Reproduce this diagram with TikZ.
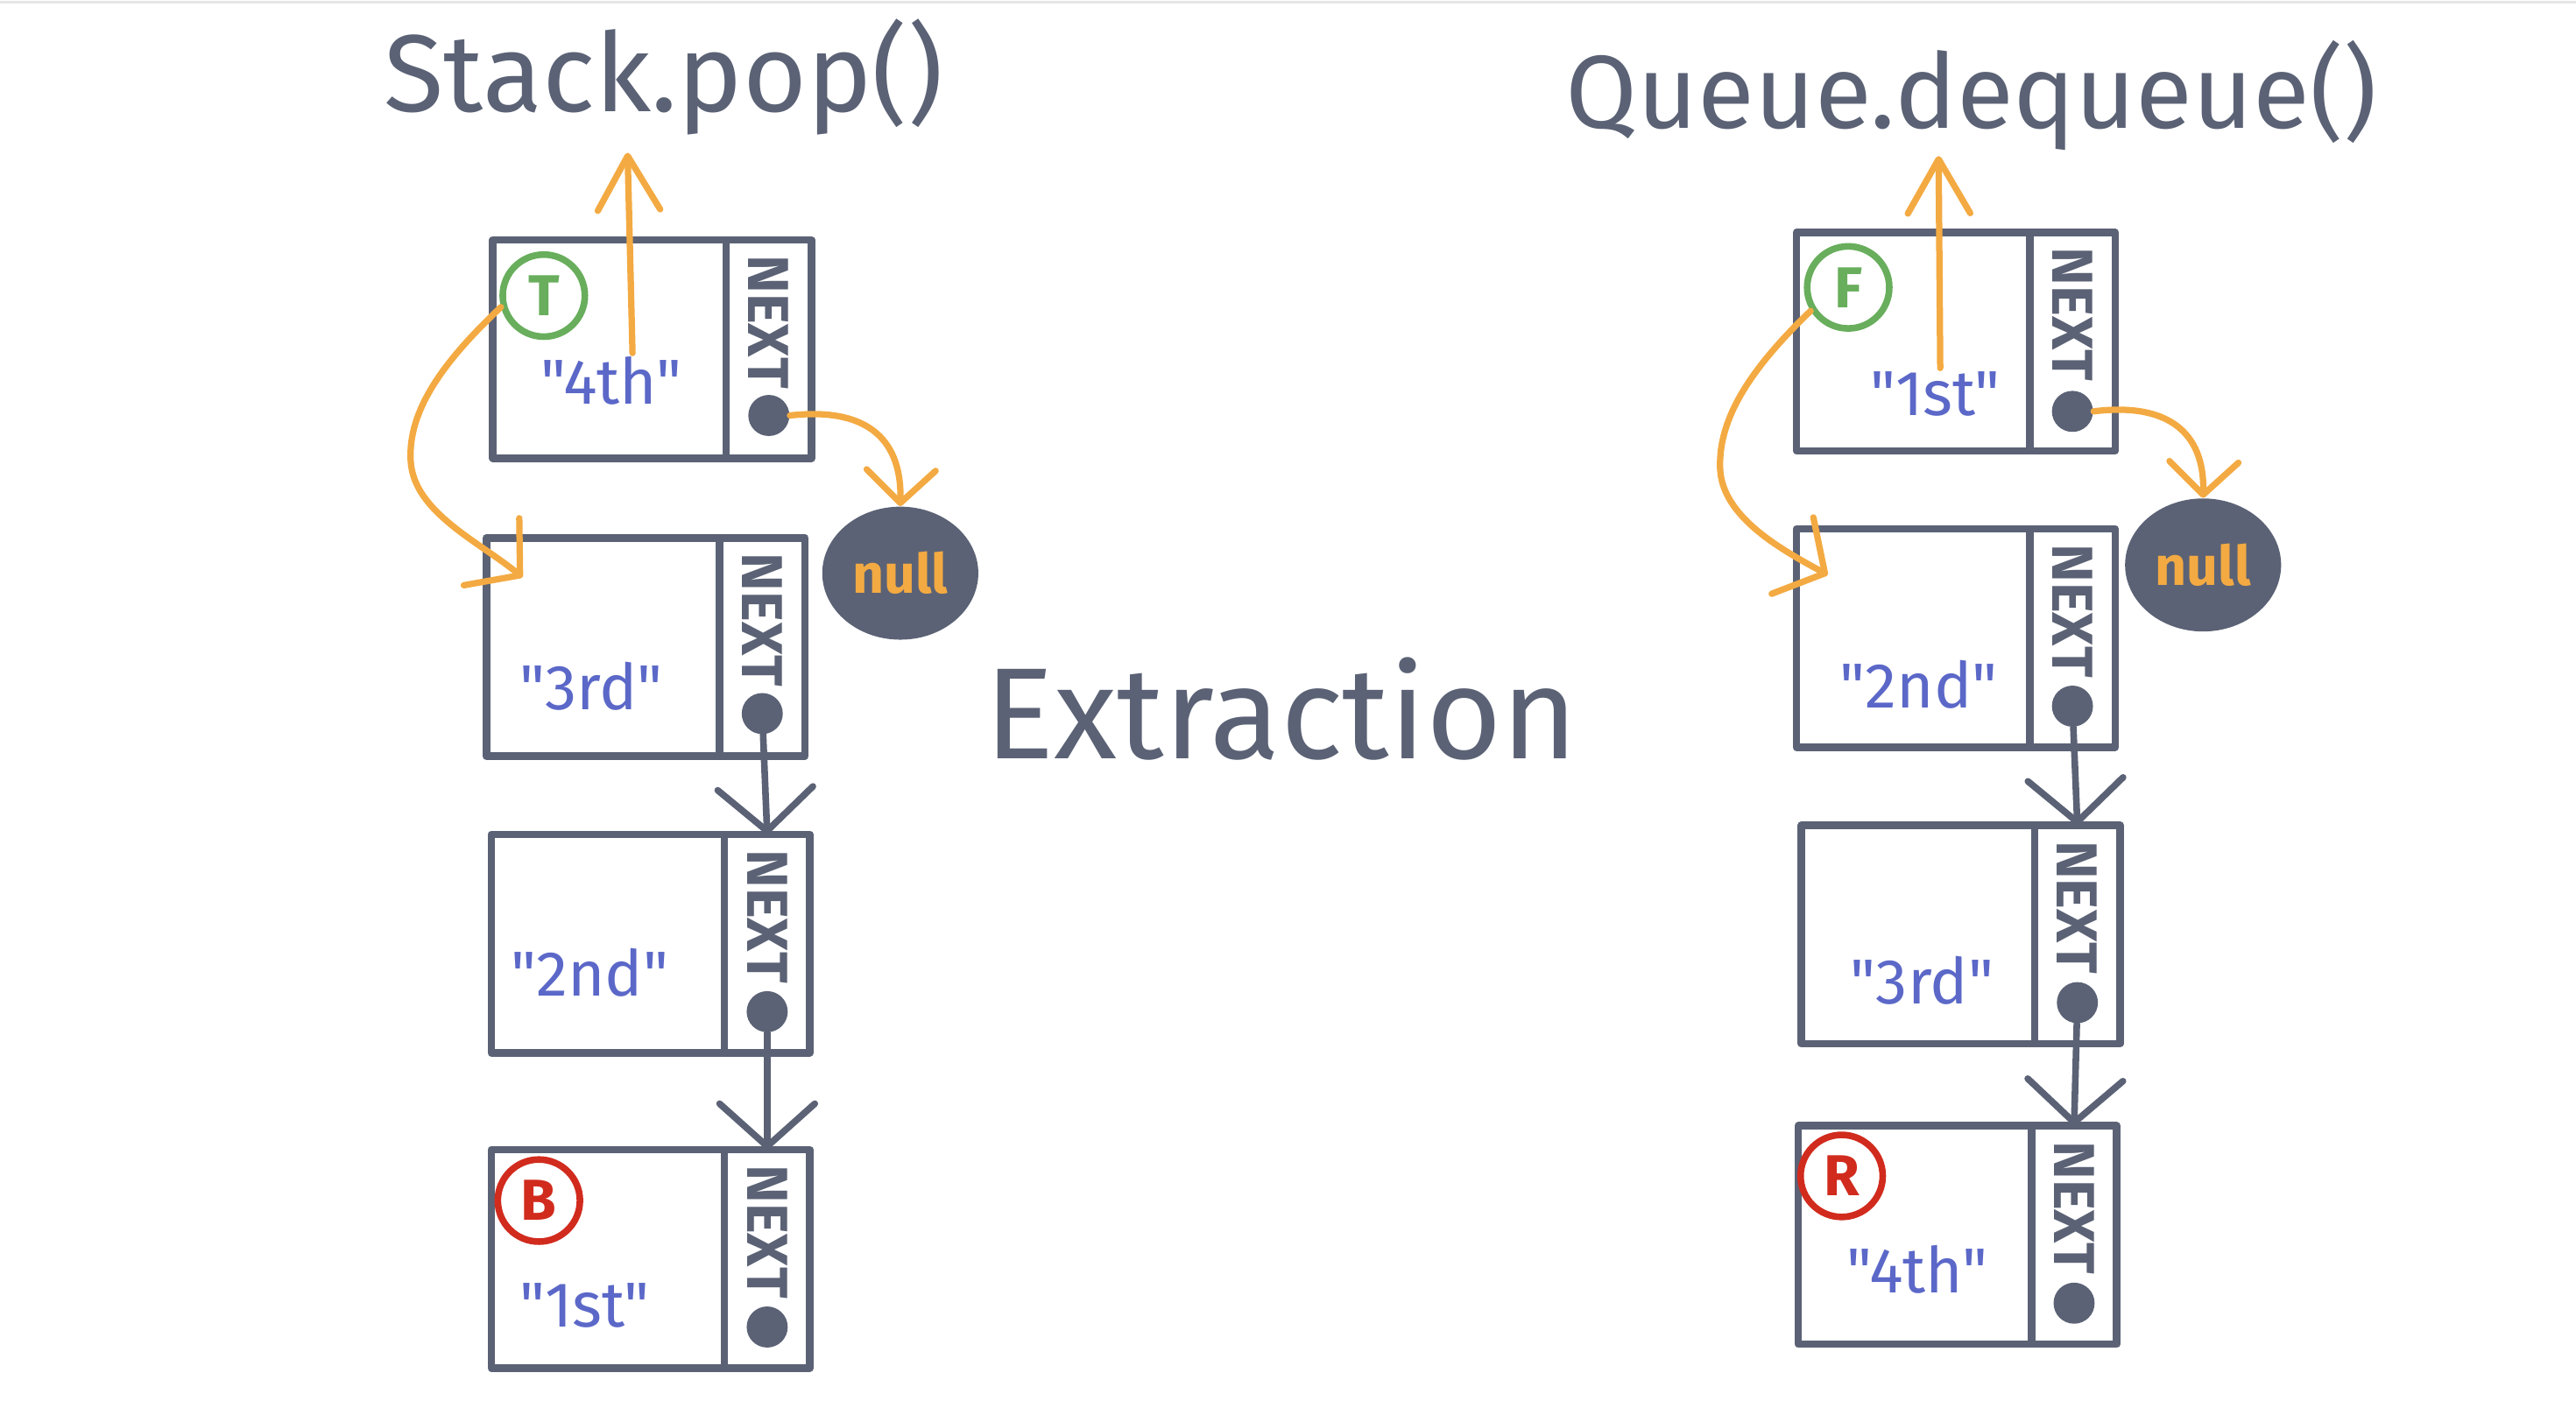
\documentclass[tikz,border=0pt]{standalone}
\usepackage{fontspec}
\setmainfont{Fira Sans}
\newfontfamily\valfont{Fira Sans}
\usetikzlibrary{positioning,calc,arrows.meta,shapes.geometric}

\definecolor{ink}{HTML}{5B6275}
\definecolor{marker}{HTML}{F3AA42}
\definecolor{valblue}{HTML}{5B68C8}
\definecolor{topgreen}{HTML}{68AE5C}
\definecolor{endred}{HTML}{D12B1E}
\definecolor{rule}{HTML}{E6E6E6}

\begin{document}
\begin{tikzpicture}[
    x=0.02cm, y=-0.02cm,
    cell/.style={draw=ink, line width=2.6pt, line join=round, rectangle, outer sep=0pt, minimum width=2.84cm, minimum height=2.66cm},
    nextcell/.style={draw=ink, line width=2.6pt, line join=round, rectangle, outer sep=0pt, minimum width=1.04cm, minimum height=2.66cm},
    nextlbl/.style={rotate=-90, anchor=west, inner sep=0pt, text=ink, font=\bfseries\fontsize{20}{20}\selectfont},
    dot/.style={circle, fill=ink, minimum size=0.5cm, inner sep=0pt},
    val/.style={text=valblue, inner sep=0pt, font=\valfont\fontsize{22}{22}\selectfont},
    tag/.style={circle, draw=#1, line width=2.3pt, text=#1, minimum size=1cm, inner sep=0pt, font=\bfseries\fontsize{20}{20}\selectfont},
    nullnode/.style={ellipse, fill=ink, text=marker, minimum width=1.9cm, minimum height=1.62cm, inner sep=0pt, font=\bfseries\fontsize{19}{19}\selectfont},
    title/.style={anchor=base, text=ink, font=\fontsize{38}{38}\selectfont},
    link/.style={draw=ink, line width=2.3pt, line cap=round, -{Straight Barb[length=0.52cm, width=1.16cm, round]}},
    ptr/.style={draw=marker, line width=2.2pt, line cap=round, -{Straight Barb[length=0.45cm, width=1.06cm, round]}},
    nullptr/.style={ptr, -{Straight Barb[length=0.4cm, width=0.84cm, round]}},
    outptr/.style={ptr, -{Straight Barb[length=0.66cm, width=0.76cm, round]}}
]
\useasboundingbox (0,0) rectangle (1568,857);
\draw[rule, line width=0.85pt] (0,1.5) -- (1568,1.5);

% Titles
\node[title] (pop) at (404,68) {Stack.pop()};
\node[title, font=\fontsize{36}{36}\selectfont] (deq) at (1200,78) {Queue.dequeue()};
\node[title, font=\fontsize{45}{45}\selectfont] (extr) at (780,462) {Extraction};
\coordinate (popout) at (382,93);
\coordinate (deqout) at (1180,95);

% Stack cells
\node[cell] (L1) at (371,212.5) {};
\node[nextcell, right=0pt of L1] (L1n) {};
\node[cell] (L2) at (367,394) {};
\node[nextcell, right=0pt of L2] (L2n) {};
\node[cell] (L3) at (370,574.5) {};
\node[nextcell, right=0pt of L3] (L3n) {};
\node[cell] (L4) at (370,766.5) {};
\node[nextcell, right=0pt of L4] (L4n) {};

% Queue cells
\node[cell] (R1) at (1164.5,208) {};
\node[nextcell, right=0pt of R1] (R1n) {};
\node[cell] (R2) at (1164.5,388.5) {};
\node[nextcell, right=0pt of R2] (R2n) {};
\node[cell] (R3) at (1167.5,569) {};
\node[nextcell, right=0pt of R3] (R3n) {};
\node[cell] (R4) at (1165.5,752) {};
\node[nextcell, right=0pt of R4] (R4n) {};

% NEXT labels and pointer dots
\node[nextlbl] at ($(L1n.north)+(0,9)$) {NEXT};
\node[nextlbl] at ($(L2n.north)+(0,9)$) {NEXT};
\node[nextlbl] at ($(L3n.north)+(0,9)$) {NEXT};
\node[nextlbl] at ($(L4n.north)+(0,9)$) {NEXT};
\node[nextlbl] at ($(R1n.north)+(0,9)$) {NEXT};
\node[nextlbl] at ($(R2n.north)+(0,9)$) {NEXT};
\node[nextlbl] at ($(R3n.north)+(0,9)$) {NEXT};
\node[nextlbl] at ($(R4n.north)+(0,9)$) {NEXT};
\node[dot] (L1d) at ($(L1n.south)+(0,-26)$) {};
\node[dot] (L2d) at ($(L2n.south)+(0,-26)$) {};
\node[dot] (L3d) at ($(L3n.south)+(0,-25)$) {};
\node[dot] (L4d) at ($(L4n.south)+(0,-25)$) {};
\node[dot] (R1d) at ($(R1n.south)+(0,-24)$) {};
\node[dot] (R2d) at ($(R2n.south)+(0,-25)$) {};
\node[dot] (R3d) at ($(R3n.south)+(0,-25)$) {};
\node[dot] (R4d) at ($(R4n.south)+(0,-25)$) {};

% Values
\node[val] (L1v) at (372,232) {"4th"};
\node[val] (L2v) at (360,418) {"3rd"};
\node[val] (L3v) at (359,592) {"2nd"};
\node[val] (L4v) at (356,795) {"1st"};
\node[val] (R1v) at (1178,240) {"1st"};
\node[val] (R2v) at (1168,417) {"2nd"};
\node[val] (R3v) at (1170,597) {"3rd"};
\node[val] (R4v) at (1167,773) {"4th"};

% Top / bottom and front / rear tags
\node[tag=topgreen] (T) at (331,180) {T};
\node[tag=endred] (B) at (328,731) {B};
\node[tag=topgreen] (F) at (1125,175) {F};
\node[tag=endred] (R) at (1121,716) {R};

% null ends
\node[nullnode] (Lnull) at (548,349) {null};
\node[nullnode] (Rnull) at (1341,344) {null};

% Links
\draw[link] (L2d) -- (L3n.north);
\draw[link] (L3d) -- (L4n.north);
\draw[link] (R2d) -- (R3n.north);
\draw[link] (R3d) -- (R4n.north);

% Extraction moves
\draw[outptr] ($(L1v.north)+(13,-2)$) -- (popout);
\draw[outptr] ($(R1v.north)+(3,-2)$) -- (deqout);
\draw[ptr] (T.195) .. controls (270,220) and (248,250) .. (250,281)
    .. controls (252,312) and (292,330) .. ($(L2.north west)+(22,24)$);
\draw[ptr] (F.212) .. controls (1065,225) and (1046,255) .. (1047,285)
    .. controls (1048,315) and (1085,335) .. ($(R2.north west)+(19,28)$);
\draw[nullptr] (L1d.east) .. controls (525,248) and (549,265) .. (Lnull.north);
\draw[nullptr] (R1d.east) .. controls (1318,245) and (1342,262) .. (Rnull.north);

\end{tikzpicture}
\end{document}
